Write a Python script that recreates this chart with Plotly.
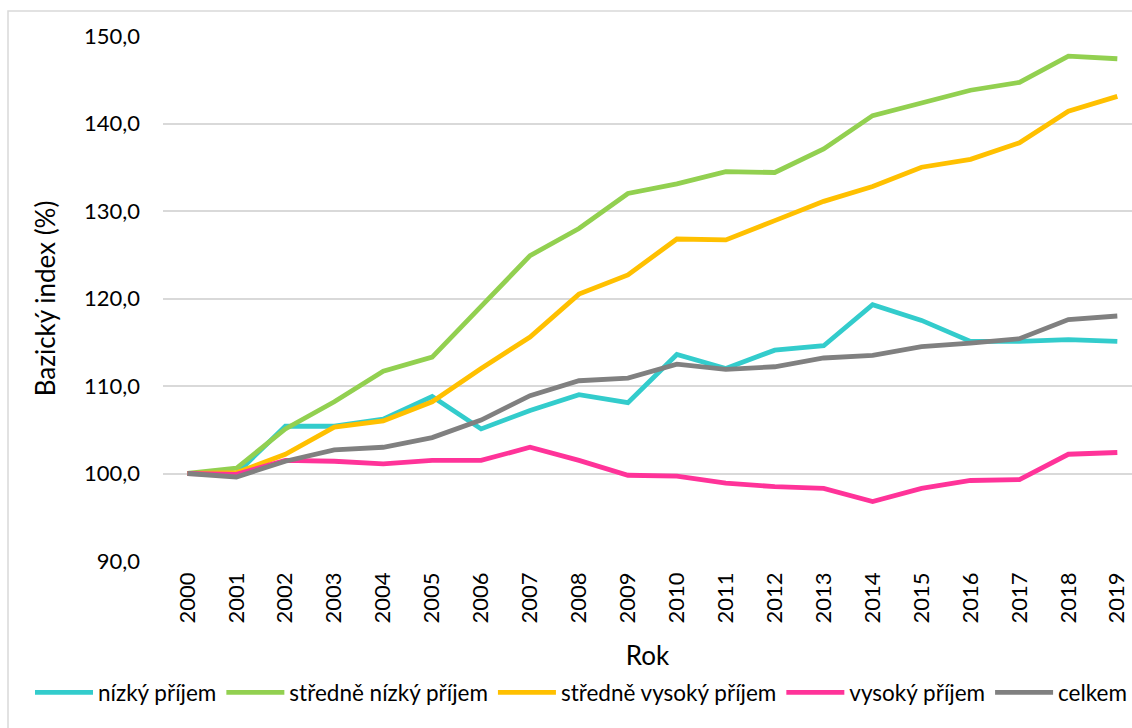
import plotly.graph_objects as go

years = [str(y) for y in range(2000, 2020)]

nizky = [100.0, 100.0, 105.4, 105.4, 106.2, 108.8, 105.1, 107.2, 109.0, 108.1,
         113.6, 112.0, 114.1, 114.6, 119.3, 117.5, 115.1, 115.1, 115.3, 115.1]
stredne_nizky = [100.0, 100.6, 105.1, 108.2, 111.7, 113.3, 119.1, 124.9, 128.0, 132.0,
                 133.1, 134.5, 134.4, 137.1, 140.9, 142.3, 143.8, 144.7, 147.7, 147.4]
stredne_vysoky = [100.0, 100.1, 102.2, 105.3, 106.0, 108.2, 112.0, 115.6, 120.5, 122.7,
                  126.8, 126.7, 128.9, 131.1, 132.8, 135.0, 135.9, 137.8, 141.4, 143.1]
vysoky = [100.0, 99.9, 101.5, 101.4, 101.1, 101.5, 101.5, 103.0, 101.5, 99.8,
          99.7, 98.9, 98.5, 98.3, 96.8, 98.3, 99.2, 99.3, 102.2, 102.4]
celkem = [100.0, 99.6, 101.4, 102.7, 103.0, 104.1, 106.1, 108.9, 110.6, 110.9,
          112.5, 111.9, 112.2, 113.2, 113.5, 114.5, 114.9, 115.4, 117.6, 118.0]

series = [
    ("nízký příjem", nizky, "#33CCCC"),
    ("středně nízký příjem", stredne_nizky, "#92D050"),
    ("středně vysoký příjem", stredne_vysoky, "#FFC000"),
    ("vysoký příjem", vysoky, "#FF3399"),
    ("celkem", celkem, "#808080"),
]

FONT = "Lato"
fig = go.Figure()
for name, vals, col in series:
    fig.add_trace(go.Scatter(
        x=list(range(len(years))), y=vals, name=name, mode="lines",
        line=dict(color=col, width=4.8),
    ))

fig.update_layout(
    width=1132, height=728,
    margin=dict(l=163, r=0, t=36, b=167),
    paper_bgcolor="white", plot_bgcolor="white",
    font=dict(family=FONT, size=22, color="#000000"),
    separators=", ",
    showlegend=True,
    legend=dict(orientation="h", x=(30 - 163) / 969, xanchor="left", y=-0.251, yanchor="middle",
                font=dict(family=FONT, size=22.5, color="#000000"),
                itemwidth=58,
                bgcolor="rgba(0,0,0,0)", traceorder="normal"),
    xaxis=dict(
        range=[-0.5, 19.3], tickmode="array",
        tickvals=list(range(len(years))), ticktext=years,
        tickangle=-90, showgrid=False, zeroline=False,
        showline=False, ticks="", automargin=False,
        ticklabelstandoff=6,
        title=dict(text="Rok", standoff=24),
    ),
    yaxis=dict(
        range=[90, 150], dtick=10, tickformat=".1f",
        showgrid=True, gridcolor="#D9D9D9", gridwidth=1.5,
        zeroline=False, showline=False, ticks="", automargin=False,
        ticklabelstandoff=22,
        title=dict(text="Bazický index (%)", standoff=20),
    ),
    shapes=[dict(type="rect", xref="paper", yref="paper",
                 x0=(8 - 163) / 969, x1=1.05, y0=-0.6, y1=(561 - 11) / 525,
                 line=dict(color="#D9D9D9", width=1.5), fillcolor="rgba(0,0,0,0)",
                 layer="below")],
)

fig.write_html("out.html", config={"displayModeBar": False},
               post_script="document.body.style.margin='0';document.body.style.overflow='hidden';")
